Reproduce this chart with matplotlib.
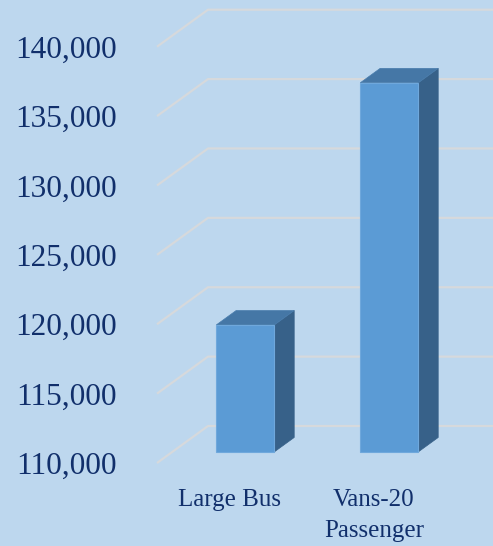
import matplotlib
matplotlib.use("Agg")
import matplotlib.pyplot as plt
from matplotlib.patches import Polygon
import numpy as np

categories = ["Large Bus", "Vans-20\nPassenger"]
values = [119150, 136600]
y_ticks = [110000, 115000, 120000, 125000, 130000, 135000, 140000]

BG = "#BDD7EE"
TXT = "#112F6B"
GRID = "#D6D9DC"
FRONT = "#5B9BD5"
TOP = "#4577A6"
SIDE = "#376189"

DPI = 100
fig = plt.figure(figsize=(4.93, 5.46), dpi=DPI, facecolor=BG)
ax = fig.add_axes([157 / 493, 83 / 546, 1 - 157 / 493, 416.3 / 546])
ax.set_facecolor(BG)
ax.patch.set_alpha(0)
x = np.arange(len(categories))
ax.set_xlim(-73 / 144, 1 + 119 / 144)
ax.set_ylim(110000, 140000)
for s in ax.spines.values():
    s.set_visible(False)

font = "Liberation Serif"
ax.set_yticks(y_ticks)
ax.set_yticklabels([f"{v:,}" for v in y_ticks], fontsize=22.5, color=TXT, family=font)
ax.set_xticks(x)
ax.set_xticklabels(categories, fontsize=18, color=TXT, family=font, linespacing=1.5)
ax.tick_params(axis="y", length=0, pad=29)
ax.tick_params(axis="x", length=0, pad=19)

# depth in pixels (full wall depth)
DX, DY = 51, 37
f1, f2 = 0.30, 0.69
bar_w = 0.403

T = ax.transData
Ti = ax.transData.inverted()

def pt(xd, yd, f):
    px, py = T.transform((xd, yd))
    return Ti.transform((px + DX * f, py + DY * f))

# gridlines: diagonal on the side then along the back wall
x0 = ax.get_xlim()[0]
for v in y_ticks:
    a = pt(x0, v, 0)
    b = pt(x0, v, 1)
    c = (b[0] + 10, b[1])
    ax.plot([a[0], b[0], c[0]], [a[1], b[1], c[1]], color=GRID, lw=1.6,
            clip_on=False, zorder=1, solid_capstyle="butt")

base = y_ticks[0]
for xi, v in zip(x, values):
    l, r = xi - bar_w / 2, xi + bar_w / 2
    side = [pt(r, base, f1), pt(r, base, f2), pt(r, v, f2), pt(r, v, f1)]
    top = [pt(l, v, f1), pt(r, v, f1), pt(r, v, f2), pt(l, v, f2)]
    front = [pt(l, base, f1), pt(r, base, f1), pt(r, v, f1), pt(l, v, f1)]
    ax.add_patch(Polygon(side, closed=True, facecolor=SIDE, edgecolor=SIDE, lw=0.5, zorder=3))
    ax.add_patch(Polygon(top, closed=True, facecolor=TOP, edgecolor="#4A7DAD", lw=0.5, zorder=3))
    ax.add_patch(Polygon(front, closed=True, facecolor=FRONT, edgecolor="#6FA8DC", lw=0.8, zorder=4))

fig.savefig("out.png", dpi=DPI, facecolor=BG)
